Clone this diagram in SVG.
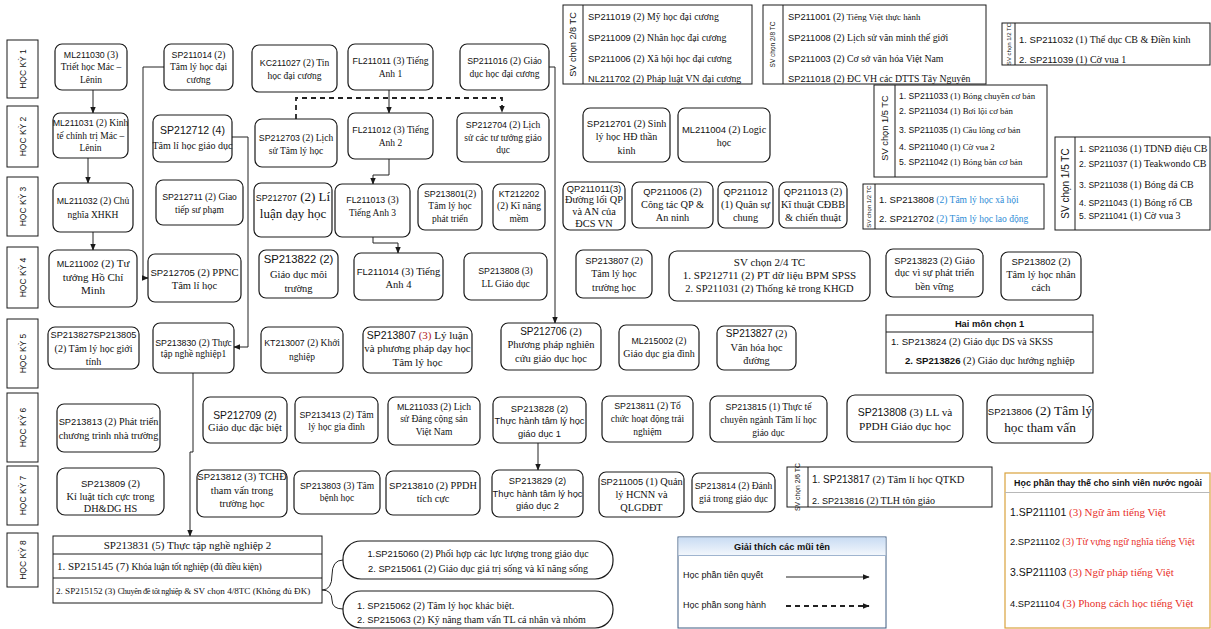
<svg xmlns="http://www.w3.org/2000/svg" width="1211" height="629" viewBox="0 0 1211 629">
<defs>
<style>
.b{fill:#fff;stroke:#1a1a1a;stroke-width:1.2}
.r{fill:#fff;stroke:#1a1a1a;stroke-width:1}
.ln{stroke:#1a1a1a;stroke-width:1}
text{font-family:"Liberation Serif","Times New Roman",serif;font-size:9.5px;fill:#111}
.m{text-anchor:middle}
.k{font-family:"Liberation Sans",Arial,sans-serif;font-size:8.8px}
.s{font-family:"Liberation Sans",Arial,sans-serif}
.bd{font-weight:bold}
.cn{fill:none;stroke:#222;stroke-width:1}
.dash{fill:none;stroke:#222;stroke-width:1.8;stroke-dasharray:5 4}
.red{fill:#e8302a}
.dred{fill:#b01818}
.blue{fill:#2b8bd6}
</style>
<marker id="ar" viewBox="0 0 10 10" refX="9" refY="5" markerWidth="7" markerHeight="7" orient="auto" markerUnits="userSpaceOnUse"><path d="M0,1 L10,5 L0,9 z" fill="#1a1a1a"/></marker>
<linearGradient id="lg" x1="0" y1="0" x2="0" y2="1"><stop offset="0" stop-color="#c9dcf3"/><stop offset="1" stop-color="#f3f7fc"/></linearGradient>
</defs>
<rect width="1211" height="629" fill="#fff"/>

<g id="semesters">
<rect class="r" x="7" y="40" width="31" height="58"/><text class="s m" style="font-size:8.5px" x="22.5" y="72" transform="rotate(-90 22.5 69)">HỌC KỲ 1</text>
<rect class="r" x="7" y="106" width="31" height="61"/><text class="s m" style="font-size:8.5px" x="22.5" y="139.5" transform="rotate(-90 22.5 136.5)">HỌC KỲ 2</text>
<rect class="r" x="7" y="177" width="31" height="59"/><text class="s m" style="font-size:8.5px" x="22.5" y="209.5" transform="rotate(-90 22.5 206.5)">HỌC KỲ 3</text>
<rect class="r" x="7" y="247" width="31" height="61"/><text class="s m" style="font-size:8.5px" x="22.5" y="280.5" transform="rotate(-90 22.5 277.5)">HỌC KỲ 4</text>
<rect class="r" x="7" y="319" width="31" height="69"/><text class="s m" style="font-size:8.5px" x="22.5" y="356.5" transform="rotate(-90 22.5 353.5)">HỌC KỲ 5</text>
<rect class="r" x="7" y="393" width="31" height="69"/><text class="s m" style="font-size:8.5px" x="22.5" y="430.5" transform="rotate(-90 22.5 427.5)">HỌC KỲ 6</text>
<rect class="r" x="7" y="466" width="31" height="59"/><text class="s m" style="font-size:8.5px" x="22.5" y="498.5" transform="rotate(-90 22.5 495.5)">HỌC KỲ 7</text>
<rect class="r" x="7" y="533" width="31" height="54"/><text class="s m" style="font-size:8.5px" x="22.5" y="563" transform="rotate(-90 22.5 560)">HỌC KỲ 8</text>
</g>

<g id="connectors">
<path class="cn" d="M93,90 V113" marker-end="url(#ar)"/>
<path class="cn" d="M88,158 V183" marker-end="url(#ar)"/>
<path class="cn" d="M93,232 V250" marker-end="url(#ar)"/>
<path class="cn" d="M164,67 H143 V278 H148" marker-end="url(#ar)"/>
<path class="cn" d="M232,137 H248 V347 H234" marker-end="url(#ar)"/>
<path class="cn" d="M389,90 V113" marker-end="url(#ar)"/>
<path class="dash" d="M296,119 V98 H502 V112" marker-end="url(#ar)"/>
<path class="cn" d="M389,159 V175 H373 V184" marker-end="url(#ar)"/>
<path class="cn" d="M373,237 V243 H398 V253" marker-end="url(#ar)"/>
<path class="cn" d="M549,67 H555 V323" marker-end="url(#ar)"/>
<path class="cn" d="M193,373 V452 H190 V536" marker-end="url(#ar)"/>
<path class="cn" d="M538,443 V470" marker-end="url(#ar)"/>
<path class="cn" d="M343,560 Q332,560 332,575 Q332,590 322,590 Q332,590 332,600 Q332,609 343,609"/>
</g>

<g id="ML211030"><rect class="b" x="55" y="44" width="72" height="46" rx="7"/><text class="m" x="91" y="57.8"><tspan class="k">ML211030</tspan> (3)</text><text class="m" x="91" y="70.3">Triết học Mác –</text><text class="m" x="91" y="82.8">Lênin</text></g>
<g id="SP211014"><rect class="b" x="164" y="44" width="69" height="46" rx="7"/><text class="m" x="198.5" y="57.8"><tspan class="k">SP211014</tspan> (2)</text><text class="m" x="198.5" y="70.3">Tâm lý học đại</text><text class="m" x="198.5" y="82.8">cương</text></g>
<g id="KC211027"><rect class="b" x="252" y="45" width="85" height="47" rx="7"/><text class="m" x="294.5" y="65.5"><tspan class="k">KC211027</tspan> (2) Tin</text><text class="m" x="294.5" y="78.5">học đại cương</text></g>
<g id="FL211011"><rect class="b" x="348" y="44" width="85" height="46" rx="7"/><text class="m" x="390.5" y="64"><tspan class="k">FL211011</tspan> (3) Tiếng</text><text class="m" x="390.5" y="77">Anh 1</text></g>
<g id="SP211016"><rect class="b" x="460" y="44" width="89" height="46" rx="7"/><text class="m" x="504.5" y="64"><tspan class="k">SP211016</tspan> (2) Giáo</text><text class="m" x="504.5" y="77">dục học đại cương</text></g>

<g id="ML211031"><rect class="b" x="53" y="113" width="75" height="45" rx="7"/><text class="m" x="90.5" y="126.3"><tspan class="k">ML211031</tspan> (2) Kinh</text><text class="m" x="90.5" y="138.8">tế chính trị Mác –</text><text class="m" x="90.5" y="151.3">Lênin</text></g>
<g id="SP212712"><rect class="b" x="153" y="115" width="79" height="47" rx="7"/><text class="m s" style="font-size:10.5px" x="192.5" y="134">SP212712 (4)</text><text class="m" style="font-size:10px" x="192.5" y="148.5">Tâm lí học giáo dục</text></g>
<g id="SP212703"><rect class="b" x="255" y="119" width="82" height="48" rx="7"/><text class="m" x="296" y="140.5"><tspan class="k">SP212703</tspan> (2) Lịch</text><text class="m" x="296" y="153.5">sử Tâm lý học</text></g>
<g id="FL211012"><rect class="b" x="348" y="113" width="85" height="46" rx="7"/><text class="m" x="390.5" y="133"><tspan class="k">FL211012</tspan> (3) Tiếng</text><text class="m" x="390.5" y="146">Anh 2</text></g>
<g id="SP212704"><rect class="b" x="457" y="113" width="92" height="49" rx="7"/><text class="m" x="503" y="128.3"><tspan class="k">SP212704</tspan> (2) Lịch</text><text class="m" x="503" y="140.8">sử các tư tưởng giáo</text><text class="m" x="503" y="153.3">dục</text></g>
<g id="SP212701"><rect class="b" x="583" y="108" width="87" height="54" rx="7"/><text class="m" style="font-size:10px" x="626.5" y="127"><tspan class="k" style="font-size:9.5px">SP212701</tspan> (2) Sinh</text><text class="m" style="font-size:10px" x="626.5" y="140.3">lý học HĐ thần</text><text class="m" style="font-size:10px" x="626.5" y="153.6">kinh</text></g>
<g id="ML211004"><rect class="b" x="678" y="108" width="92" height="54" rx="7"/><text class="m" style="font-size:10px" x="724" y="133.3"><tspan class="k" style="font-size:9.5px">ML211004</tspan> (2) Logic</text><text class="m" style="font-size:10px" x="724" y="145.5">học</text></g>

<g id="ML211032"><rect class="b" x="53" y="183" width="80" height="49" rx="7"/><text class="m" x="93" y="203.5"><tspan class="k">ML211032</tspan> (2) Chủ</text><text class="m" x="93" y="217.5">nghĩa XHKH</text></g>
<g id="SP212711"><rect class="b" x="156" y="180" width="87" height="45" rx="7"/><text class="m" x="199.5" y="200"><tspan class="k">SP212711</tspan> (2) Giao</text><text class="m" x="199.5" y="213.3">tiếp sư phạm</text></g>
<g id="SP212707"><rect class="b" x="254" y="183" width="78" height="54" rx="7"/><text class="m" style="font-size:13px" x="293" y="201"><tspan class="k">SP212707</tspan> (2) Lí</text><text class="m" style="font-size:13px" x="293" y="218">luận dạy học</text></g>
<g id="FL211013"><rect class="b" x="335" y="184" width="75" height="53" rx="7"/><text class="m" x="372.5" y="202.6"><tspan class="k">FL211013</tspan> (3)</text><text class="m" x="372.5" y="216">Tiếng Anh 3</text></g>
<g id="SP213801"><rect class="b" x="418" y="184" width="64" height="46" rx="7"/><text class="m" x="450" y="196.6"><tspan class="k">SP213801</tspan>(2)</text><text class="m" x="450" y="209">Tâm lý học</text><text class="m" x="450" y="221.6">phát triển</text></g>
<g id="KT212202"><rect class="b" x="493" y="184" width="52" height="46" rx="7"/><text class="m s" style="font-size:8.8px" x="519" y="196.6">KT212202</text><text class="m" x="519" y="209">(2) Kĩ năng</text><text class="m" x="519" y="221.6">mềm</text></g>
<g id="QP211011"><rect class="b" x="563" y="182" width="62" height="48" rx="7"/><text class="m s" style="font-size:9.3px" x="594" y="191.5">QP211011(3)</text><text class="m" style="font-size:10.3px" x="594" y="203.2">Đường lối QP</text><text class="m" style="font-size:10.3px" x="594" y="214.9">và AN của</text><text class="m" style="font-size:10.3px" x="594" y="226.6">ĐCS VN</text></g>
<g id="QP211006"><rect class="b" x="632" y="182" width="81" height="46" rx="7"/><text class="m" style="font-size:10.3px" x="672.5" y="195"><tspan class="k" style="font-size:9.3px">QP211006</tspan> (2)</text><text class="m" style="font-size:10.3px" x="672.5" y="207.5">Công tác QP &amp;</text><text class="m" style="font-size:10.3px" x="672.5" y="220.5">An ninh</text></g>
<g id="QP211012"><rect class="b" x="718" y="182" width="55" height="46" rx="7"/><text class="m s" style="font-size:9.3px" x="745.5" y="195">QP211012</text><text class="m" style="font-size:10.3px" x="745.5" y="207.5">(1) Quân sự</text><text class="m" style="font-size:10.3px" x="745.5" y="220.5">chung</text></g>
<g id="QP211013"><rect class="b" x="779" y="182" width="68" height="46" rx="7"/><text class="m" style="font-size:10.3px" x="813" y="195"><tspan class="k" style="font-size:9.3px">QP211013</tspan> (2)</text><text class="m" style="font-size:10.3px" x="813" y="207.5">Kĩ thuật CĐBB</text><text class="m" style="font-size:10.3px" x="813" y="220.5">&amp; chiến thuật</text></g>

<g id="ML211002"><rect class="b" x="49" y="250" width="88" height="57" rx="8"/><text class="m" style="font-size:11px" x="93" y="266.9"><tspan class="k" style="font-size:9px">ML211002</tspan> (2) Tư</text><text class="m" style="font-size:11px" x="93" y="280.9">tưởng Hồ Chí</text><text class="m" style="font-size:11px" x="93" y="293.9">Minh</text></g>
<g id="SP212705"><rect class="b" x="148" y="254" width="93" height="48" rx="7"/><text class="m" style="font-size:10.5px" x="194.5" y="276"><tspan class="k" style="font-size:9.5px">SP212705</tspan> (2) PPNC</text><text class="m" style="font-size:10.5px" x="194.5" y="289">Tâm lí học</text></g>
<g id="SP213822"><rect class="b" x="259" y="250" width="79" height="48" rx="7"/><text class="m s" style="font-size:11.3px" x="298.5" y="263">SP213822 (2)</text><text class="m" style="font-size:10.5px" x="298.5" y="277.7">Giáo dục môi</text><text class="m" style="font-size:10.5px" x="298.5" y="291.7">trường</text></g>
<g id="FL211014"><rect class="b" x="354" y="253" width="89" height="47" rx="7"/><text class="m" style="font-size:10.5px" x="398.5" y="275"><tspan class="k" style="font-size:9.5px">FL211014</tspan> (3) Tiếng</text><text class="m" style="font-size:10.5px" x="398.5" y="287.5">Anh 4</text></g>
<g id="SP213808-LLGD"><rect class="b" x="464" y="253" width="83" height="47" rx="7"/><text class="m" x="505.5" y="273.5"><tspan class="k">SP213808</tspan> (3)</text><text class="m" x="505.5" y="286.5">LL Giáo dục</text></g>
<g id="SP213807-TLHTH"><rect class="b" x="576" y="250" width="76" height="48" rx="7"/><text class="m" style="font-size:10px" x="614" y="263.5"><tspan class="k" style="font-size:9.3px">SP213807</tspan> (2)</text><text class="m" style="font-size:10px" x="614" y="277">Tâm lý học</text><text class="m" style="font-size:10px" x="614" y="290.5">trường học</text></g>
<g id="SV-chon-2-4"><rect class="b" x="669" y="251" width="201" height="50" rx="8"/><text class="m" style="font-size:11px" x="769.5" y="265.5">SV chọn 2/4 TC</text><text class="m" style="font-size:11px" x="769.5" y="279">1. SP212711 (2) PT dữ liệu BPM SPSS</text><text class="m" style="font-size:10.5px" x="769.5" y="292">2. SP211031 (2) Thống kê trong KHGD</text></g>
<g id="SP213823"><rect class="b" x="886" y="249" width="97" height="48" rx="7"/><text class="m" style="font-size:10.3px" x="934.5" y="263.5"><tspan class="k" style="font-size:9.3px">SP213823</tspan> (2) Giáo</text><text class="m" style="font-size:10.3px" x="934.5" y="276.3">dục vì sự phát triển</text><text class="m" style="font-size:10.3px" x="934.5" y="289.6">bền vững</text></g>
<g id="SP213802"><rect class="b" x="1001" y="252" width="80" height="48" rx="7"/><text class="m" style="font-size:10.3px" x="1041" y="265"><tspan class="k" style="font-size:9.5px">SP213802</tspan> (2)</text><text class="m" style="font-size:10.3px" x="1041" y="277.7">Tâm lý học nhân</text><text class="m" style="font-size:10.3px" x="1041" y="291">cách</text></g>

<g id="SP213827SP213805"><rect class="b" x="48" y="327" width="91" height="42" rx="7"/><text class="m s" style="font-size:9.2px" x="93.5" y="338.3">SP213827SP213805</text><text class="m" style="font-size:10px" x="93.5" y="351.6">(2) Tâm lý học giới</text><text class="m" style="font-size:10px" x="93.5" y="365">tính</text></g>
<g id="SP213830"><rect class="b" x="153" y="323" width="81" height="50" rx="7"/><text class="m" x="193.5" y="345.5"><tspan class="k">SP213830</tspan> (2) Thực</text><text class="m" x="193.5" y="357">tập nghề nghiệp1</text></g>
<g id="KT213007"><rect class="b" x="261" y="327" width="82" height="46" rx="7"/><text class="m" x="302" y="346"><tspan class="k">KT213007</tspan> (2) Khởi</text><text class="m" x="302" y="359.5">nghiệp</text></g>
<g id="SP213807-LLPP"><rect class="b" x="363" y="327" width="109" height="46" rx="7"/><text class="m" style="font-size:11px" x="417.5" y="338.5"><tspan class="k" style="font-size:10.5px">SP213807</tspan> <tspan class="dred">(3)</tspan> Lý luận</text><text class="m" style="font-size:10.8px" x="417.5" y="352">và phương pháp dạy học</text><text class="m" style="font-size:11px" x="417.5" y="365.5">Tâm lý học</text></g>
<g id="SP212706"><rect class="b" x="501" y="323" width="100" height="47" rx="7"/><text class="m" style="font-size:10.5px" x="551" y="334.5"><tspan class="k" style="font-size:10px">SP212706</tspan> (2)</text><text class="m" style="font-size:10.5px" x="551" y="348">Phương pháp nghiên</text><text class="m" style="font-size:10.5px" x="551" y="361.5">cứu giáo dục học</text></g>
<g id="ML215002"><rect class="b" x="619" y="325" width="80" height="45" rx="7"/><text class="m" x="659" y="343.5"><tspan class="k">ML215002</tspan> (2)</text><text class="m" style="font-size:10px" x="659" y="356.5">Giáo dục gia đình</text></g>
<g id="SP213827"><rect class="b" x="717" y="326" width="79" height="44" rx="7"/><text class="m" style="font-size:10.3px" x="756.5" y="337"><tspan class="k" style="font-size:10px">SP213827</tspan> (2)</text><text class="m" style="font-size:10.3px" x="756.5" y="350.5">Văn hóa học</text><text class="m" style="font-size:10.3px" x="756.5" y="364">đường</text></g>
<g id="Hai-mon-chon-1"><rect class="r" x="886" y="315" width="207" height="58"/><line class="ln" x1="886" y1="332" x2="1093" y2="332"/><text class="m s bd" x="989.5" y="327.3" style="font-size:9.3px">Hai môn chọn 1</text><text x="891" y="344.5" style="font-size:10px"><tspan class="k" style="font-size:9.6px">1. SP213824</tspan> (2) Giáo dục DS và SKSS</text><text x="905" y="363.5" style="font-size:10.3px"><tspan class="k bd" style="font-size:9.6px">2. SP213826</tspan> (2) Giáo dục hướng nghiệp</text></g>

<g id="SP213813"><rect class="b" x="57" y="404" width="103" height="48" rx="7"/><text class="m" style="font-size:10.2px" x="108.5" y="425"><tspan class="k" style="font-size:9.3px">SP213813</tspan> (2) Phát triển</text><text class="m" style="font-size:10.2px" x="108.5" y="438.5">chương trình nhà trường</text></g>
<g id="SP212709"><rect class="b" x="203" y="397" width="84" height="46" rx="7"/><text class="m s" style="font-size:10.3px" x="245" y="418.5">SP212709 (2)</text><text class="m" style="font-size:10.5px" x="245" y="431">Giáo dục đặc biệt</text></g>
<g id="SP213413"><rect class="b" x="295" y="397" width="83" height="46" rx="7"/><text class="m" x="336.5" y="417.5"><tspan class="k">SP213413</tspan> (2) Tâm</text><text class="m" x="336.5" y="430">lý học gia đình</text></g>
<g id="ML211033"><rect class="b" x="388" y="397" width="92" height="48" rx="7"/><text class="m" x="434" y="409.5"><tspan class="k">ML211033</tspan> (2) Lịch</text><text class="m" x="434" y="422">sử Đảng cộng sản</text><text class="m" x="434" y="435">Việt Nam</text></g>
<g id="SP213828"><rect class="b" x="493" y="397" width="93" height="46" rx="7"/><text class="m s" style="font-size:9.3px" x="539.5" y="411.5">SP213828 (2)</text><text class="m s" style="font-size:9.3px" x="539.5" y="423.5">Thực hành tâm lý học</text><text class="m s" style="font-size:9.3px" x="539.5" y="436.5">giáo dục 1</text></g>
<g id="SP213811"><rect class="b" x="602" y="396" width="91" height="46" rx="7"/><text class="m" x="647.5" y="408.5"><tspan class="k">SP213811</tspan> (2) Tổ</text><text class="m" x="647.5" y="422">chức hoạt động trải</text><text class="m" x="647.5" y="435">nghiệm</text></g>
<g id="SP213815"><rect class="b" x="710" y="396" width="117" height="46" rx="7"/><text class="m" x="768.5" y="410"><tspan class="k">SP213815</tspan> (1) Thực tế</text><text class="m" x="768.5" y="423">chuyên ngành Tâm lí học</text><text class="m" x="768.5" y="436">giáo dục</text></g>
<g id="SP213808-PPDH"><rect class="b" x="847" y="395" width="116" height="47" rx="8"/><text class="m" style="font-size:11.3px" x="905" y="416"><tspan class="k" style="font-size:10.5px">SP213808</tspan> (3) LL và</text><text class="m" style="font-size:11.3px" x="905" y="429.5">PPDH Giáo dục học</text></g>
<g id="SP213806"><rect class="b" x="987" y="395" width="106" height="48" rx="8"/><text class="m" style="font-size:13.3px" x="1040" y="414.5"><tspan class="k" style="font-size:9.5px">SP213806</tspan> (2) Tâm lý</text><text class="m" style="font-size:13.3px" x="1040" y="431.5">học tham vấn</text></g>

<g id="SP213809"><rect class="b" x="57" y="468" width="107" height="47" rx="8"/><text class="m" style="font-size:10.3px" x="110.5" y="487"><tspan class="k" style="font-size:9.5px">SP213809</tspan> (2)</text><text class="m" style="font-size:10.3px" x="110.5" y="499.5">Kỉ luật tích cực trong</text><text class="m" style="font-size:10.3px" x="110.5" y="511.5">DH&amp;DG HS</text></g>
<g id="SP213812"><rect class="b" x="197" y="470" width="90" height="47" rx="7"/><text class="m" style="font-size:10.3px" x="242" y="480"><tspan class="k" style="font-size:9.5px">SP213812</tspan> (3) TCHĐ</text><text class="m" style="font-size:10.3px" x="242" y="493.5">tham vấn trong</text><text class="m" style="font-size:10.3px" x="242" y="507">trường học</text></g>
<g id="SP213803"><rect class="b" x="294" y="471" width="86" height="43" rx="7"/><text class="m" x="337" y="488.5"><tspan class="k">SP213803</tspan> (3) Tâm</text><text class="m" x="337" y="501">bệnh học</text></g>
<g id="SP213810"><rect class="b" x="386" y="471" width="94" height="44" rx="7"/><text class="m" style="font-size:10.3px" x="433" y="488.5"><tspan class="k" style="font-size:9.5px">SP213810</tspan> (2) PPDH</text><text class="m" style="font-size:10.3px" x="433" y="502">tích cực</text></g>
<g id="SP213829"><rect class="b" x="492" y="470" width="91" height="47" rx="7"/><text class="m s" style="font-size:9.3px" x="537.5" y="484.3">SP213829 (2)</text><text class="m s" style="font-size:9.3px" x="537.5" y="496.5">Thực hành tâm lý học</text><text class="m s" style="font-size:9.3px" x="537.5" y="509">giáo dục 2</text></g>
<g id="SP211005"><rect class="b" x="599" y="472" width="85" height="45" rx="7"/><text class="m" style="font-size:10.3px" x="641.5" y="485"><tspan class="k" style="font-size:9.3px">SP211005</tspan> (1) Quản</text><text class="m" style="font-size:10.3px" x="641.5" y="497.5">lý HCNN và</text><text class="m" style="font-size:10.3px" x="641.5" y="510.5">QLGDĐT</text></g>
<g id="SP213814"><rect class="b" x="692" y="473" width="83" height="39" rx="7"/><text class="m" x="733.5" y="488.5"><tspan class="k">SP213814</tspan> (2) Đánh</text><text class="m" x="733.5" y="502">giá trong giáo dục</text></g>
<g id="SV-chon-2-6"><rect class="r" x="787" y="467" width="205" height="40"/><line class="ln" x1="808" y1="467" x2="808" y2="507"/><text class="m s" style="font-size:6.8px" x="797.5" y="489.4" transform="rotate(-90 797.5 487)">SV chọn 2/6 TC</text><text x="812" y="483" style="font-size:10.5px"><tspan class="k" style="font-size:10px">1. SP213817</tspan> (2) Tâm lí học QTKD</text><text x="812" y="504" style="font-size:10px"><tspan class="k" style="font-size:9px">2. SP213816</tspan> (2) TLH tôn giáo</text></g>

<g id="SP213831"><rect class="r" x="53" y="536" width="269" height="67"/><line class="ln" x1="53" y1="554" x2="322" y2="554"/><line class="ln" x1="53" y1="578" x2="322" y2="578"/><text class="m" style="font-size:11px" x="187.5" y="549">SP213831 (5) Thực tập nghề nghiệp 2</text><text x="57" y="570" style="font-size:11px">1. SP215145 (7) <tspan style="font-size:9.6px;letter-spacing:-0.2px">Khóa luận tốt nghiệp (đủ điều kiện)</tspan></text><text x="56" y="594" style="font-size:9.1px">2. SP215152 (3) <tspan style="font-size:8.3px;letter-spacing:-0.35px">Chuyên đề tốt nghiệp</tspan> &amp; SV chọn 4/8TC (Không đủ ĐK)</text></g>
<g id="opt-1"><rect class="b" x="343" y="541" width="270" height="38" rx="18"/><text class="m" style="font-size:10px" x="478" y="556.5"><tspan class="k" style="font-size:9.3px">1.SP215060</tspan> (2) Phối hợp các lực lượng trong giáo dục</text><text class="m" style="font-size:10px" x="478" y="571.5"><tspan class="k" style="font-size:9.3px">2. SP215061</tspan> (2) Giáo dục giá trị sống và kĩ năng sống</text></g>
<g id="opt-2"><rect class="b" x="343" y="591" width="270" height="37" rx="18"/><text style="font-size:10px" x="357" y="608.5"><tspan class="k" style="font-size:9.3px">1. SP215062</tspan> (2) Tâm lý học khác biệt.</text><text style="font-size:10px" x="357" y="622.5"><tspan class="k" style="font-size:9.3px">2. SP215063</tspan> (2) Kỹ năng tham vấn TL cá nhân và nhóm</text></g>

<g id="legend"><rect x="678" y="537" width="208" height="91" fill="#fff" stroke="#3d5a80" stroke-width="1"/><rect x="678.5" y="537.5" width="207" height="18" fill="url(#lg)"/><line x1="678" y1="555.5" x2="886" y2="555.5" stroke="#9fb4cf" stroke-width="1"/><text class="m s bd" style="font-size:9.3px" x="782" y="549.7">Giải thích các mũi tên</text><text class="s" style="font-size:9px" x="683" y="578">Học phần tiên quyết</text><path class="cn" d="M786,577 H869" marker-end="url(#ar)"/><text class="s" style="font-size:9px" x="683" y="608">Học phần song hành</text><path class="dash" d="M786,606 H869" marker-end="url(#ar)"/></g>

<g id="foreign"><rect x="1005" y="473" width="205" height="155" fill="#fff" stroke="#d9a23c" stroke-width="1.2"/><line x1="1005" y1="492.5" x2="1210" y2="492.5" stroke="#b8b8b8" stroke-width="1"/><text class="m s bd" style="font-size:8.9px" x="1108" y="486">Học phần thay thế cho sinh viên nước ngoài</text><text x="1010" y="516" style="font-size:11px"><tspan class="k" style="font-size:10.5px">1.SP211101</tspan> <tspan class="red">(3) Ngữ âm tiếng Việt</tspan></text><text x="1010" y="544.5" style="font-size:10px"><tspan class="k" style="font-size:9.3px">2.SP211102</tspan> <tspan class="red">(3) Từ vựng ngữ nghĩa tiếng Việt</tspan></text><text x="1010" y="575.5" style="font-size:11px"><tspan class="k" style="font-size:10.5px">3.SP211103</tspan> <tspan class="red">(3) Ngữ pháp tiếng Việt</tspan></text><text x="1010" y="606.5" style="font-size:11px"><tspan class="k" style="font-size:9.3px">4.SP211104</tspan> <tspan class="red">(3) Phong cách học tiếng Việt</tspan></text></g>

<g id="elective-2-8-a"><rect class="r" x="563" y="5" width="189" height="79"/><line class="ln" x1="583" y1="5" x2="583" y2="84"/><text class="m s" style="font-size:9.2px" x="573" y="47.7" transform="rotate(-90 573 44.5)">SV chọn 2/8 TC</text><text x="588" y="20.4" style="font-size:9.8px"><tspan class="k" style="font-size:9.3px">SP211019</tspan> (2) Mỹ học đại cương</text><text x="588" y="41.4" style="font-size:9.8px"><tspan class="k" style="font-size:9.3px">SP211009</tspan> (2) Nhân học đại cương</text><text x="588" y="62.4" style="font-size:9.8px"><tspan class="k" style="font-size:9.3px">SP211006</tspan> (2) Xã hội học đại cương</text><text x="588" y="82.4" style="font-size:9.8px"><tspan class="k" style="font-size:9.3px">NL211702</tspan> (2) Pháp luật VN đại cương</text></g>
<g id="elective-2-8-b"><rect class="r" x="763" y="5" width="223" height="79"/><line class="ln" x1="783" y1="5" x2="783" y2="84"/><text class="m s" style="font-size:6.5px" x="773" y="46.8" transform="rotate(-90 773 44.5)">SV chọn 2/8 TC</text><text x="788" y="20" style="font-size:8.8px"><tspan class="k" style="font-size:9.3px">SP211001</tspan> <tspan style="font-size:9.8px">(2)</tspan> Tiếng Việt thực hành</text><text x="788" y="41.4" style="font-size:9.8px"><tspan class="k" style="font-size:9.3px">SP211008</tspan> (2) Lịch sử văn minh thế giới</text><text x="788" y="62.4" style="font-size:9.8px"><tspan class="k" style="font-size:9.3px">SP211003</tspan> (2) Cơ sở văn hóa Việt Nam</text><text x="788" y="82.4" style="font-size:9.8px"><tspan class="k" style="font-size:9.3px">SP211018</tspan> (2) ĐC VH các DTTS Tây Nguyên</text></g>
<g id="elective-1-2-a"><rect class="r" x="1002" y="23" width="208" height="42"/><line class="ln" x1="1015" y1="23" x2="1015" y2="65"/><text class="m s" style="font-size:6px" x="1008.5" y="46.1" transform="rotate(-90 1008.5 44)">SV chọn 1/2 TC</text><text x="1019" y="42.5" style="font-size:10px"><tspan class="k" style="font-size:9.5px">1. SP211032</tspan> (1) Thể dục CB  &amp; Điền kinh</text><text x="1019" y="62.5" style="font-size:10px"><tspan class="k" style="font-size:9.5px">2. SP211039</tspan> (1) Cờ vua 1</text></g>
<g id="elective-1-5-a"><rect class="r" x="874" y="85" width="173" height="92"/><line class="ln" x1="895" y1="85" x2="895" y2="177"/><text class="m s" style="font-size:9.3px" x="884.5" y="131.3" transform="rotate(-90 884.5 128)">SV chọn 1/5 TC</text><text x="899" y="99" style="font-size:8.8px"><tspan class="k" style="font-size:8.6px">1. SP211033</tspan> (1) Bóng chuyền cơ bản</text><text x="899" y="114" style="font-size:8.8px"><tspan class="k" style="font-size:8.6px">2. SP211034</tspan> (1) Bơi lội cơ bản</text><text x="899" y="133" style="font-size:8.8px"><tspan class="k" style="font-size:8.6px">3. SP211035</tspan> (1) Cầu lông cơ bản</text><text x="899" y="150" style="font-size:8.8px"><tspan class="k" style="font-size:8.6px">4. SP211040</tspan> (1) Cờ vua 2</text><text x="899" y="165" style="font-size:8.8px"><tspan class="k" style="font-size:8.6px">5. SP211042</tspan> (1) Bóng bàn cơ bản</text></g>
<g id="elective-1-2-b"><rect class="r" x="863" y="184" width="181" height="45"/><line class="ln" x1="875" y1="184" x2="875" y2="229"/><text class="m s" style="font-size:6px" x="869" y="208.6" transform="rotate(-90 869 206.5)">SV chọn 1/2 TC</text><text x="879" y="202.5" style="font-size:9.5px"><tspan class="k" style="font-size:9.5px">1. SP213808</tspan> <tspan class="blue">(2) Tâm lý học xã hội</tspan></text><text x="879" y="221.5" style="font-size:9.5px"><tspan class="k" style="font-size:9.5px">2. SP212702</tspan> <tspan class="blue">(2) Tâm lý học lao động</tspan></text></g>
<g id="elective-1-5-b"><rect class="r" x="1055" y="137" width="155" height="93"/><line class="ln" x1="1075" y1="137" x2="1075" y2="230"/><text class="m s" style="font-size:10px" x="1065" y="187" transform="rotate(-90 1065 183.5)">SV chọn 1/5 TC</text><text x="1079" y="151.5" style="font-size:10px"><tspan class="k" style="font-size:8.5px">1. SP211036</tspan> (1) TDNĐ điệu CB</text><text x="1079" y="166.5" style="font-size:10px"><tspan class="k" style="font-size:8.5px">2. SP211037</tspan> (1) Teakwondo CB</text><text x="1079" y="187.5" style="font-size:10px"><tspan class="k" style="font-size:8.5px">3. SP211038</tspan> (1) Bóng đá CB</text><text x="1079" y="205.5" style="font-size:10px"><tspan class="k" style="font-size:8.5px">4. SP211043</tspan> (1) Bóng rổ CB</text><text x="1079" y="218.5" style="font-size:10px"><tspan class="k" style="font-size:8.5px">5. SP211041</tspan> (1) Cờ vua 3</text></g>
</svg>
